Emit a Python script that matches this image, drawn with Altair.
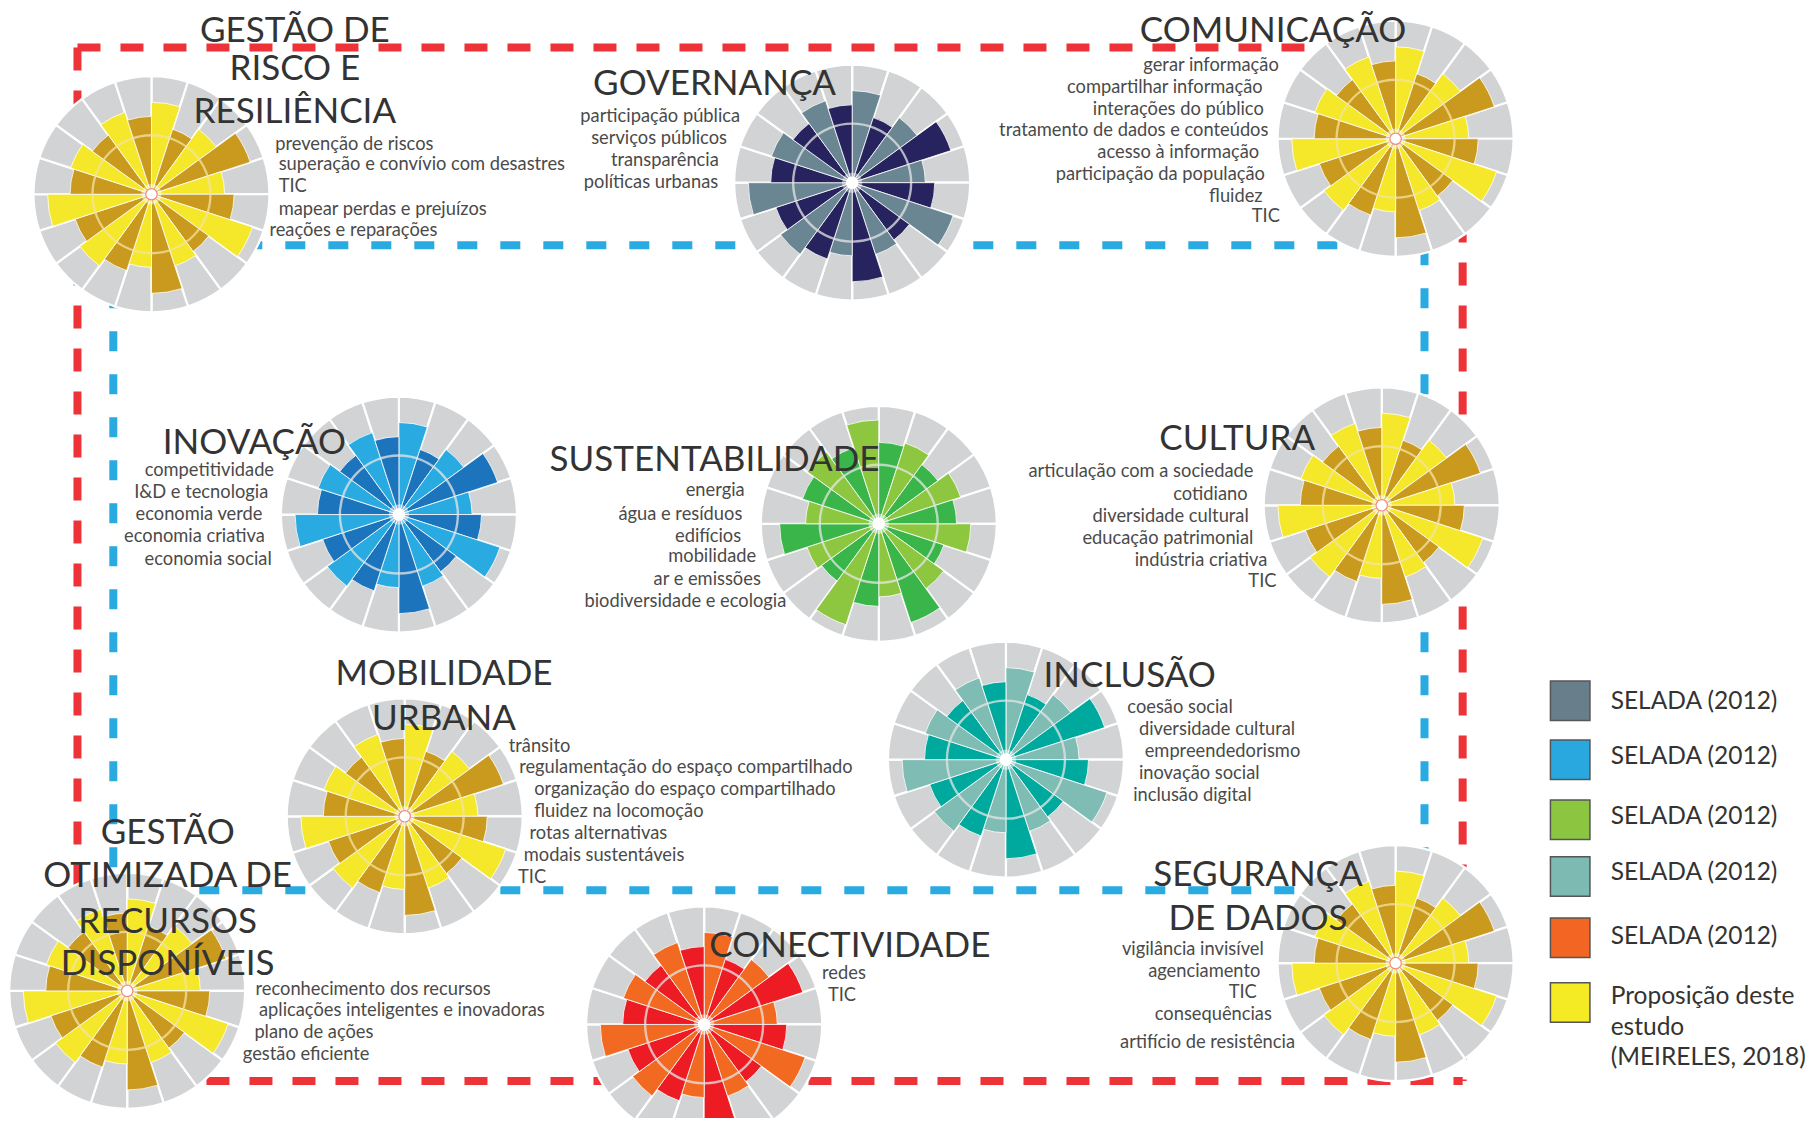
import altair as alt
import pandas as pd

# ---------------- data ----------------
# radial value of each of the 20 sectors (fraction of the wheel radius), clockwise from 12 o'clock
sector_values = [0.78, 0.58, 0.68, 0.88, 0.62, 0.70, 0.90, 0.60, 0.64, 0.84,
                 0.62, 0.68, 0.75, 0.68, 0.88, 0.69, 0.72, 0.62, 0.73, 0.66]

wheel_names = ["GESTÃO DE RISCO E RESILIÊNCIA", "GOVERNANÇA", "COMUNICAÇÃO", "INOVAÇÃO",
               "SUSTENTABILIDADE", "CULTURA", "MOBILIDADE URBANA", "INCLUSÃO",
               "GESTÃO OTIMIZADA DE RECURSOS DISPONÍVEIS", "CONECTIVIDADE", "SEGURANÇA DE DADOS"]
wheel_light = ["#F5E82A", "#6A8693", "#F5E82A", "#29ABE2", "#8DC63F", "#F5E82A",
               "#F5E82A", "#7FBCB3", "#F5E82A", "#F26A22", "#F5E82A"]
wheel_dark = ["#C99A1D", "#27235F", "#C99A1D", "#1C75BC", "#39B54A", "#C99A1D",
              "#C99A1D", "#00A99D", "#C99A1D", "#ED1C24", "#C99A1D"]
# number of sectors the pattern is turned clockwise
wheel_rotation = [0, 0, 0, 0, 5, 0, 0, 0, 0, 0, 0]
wheel_yellow = [True, False, True, False, False, True, True, False, True, False, True]

legend_labels = ["SELADA (2012)", "SELADA (2012)", "SELADA (2012)", "SELADA (2012)",
                 "SELADA (2012)", "Proposição deste"]
legend_colors = ["#687F8B", "#29A8E0", "#8CC540", "#7DBAB2", "#F26522", "#F4EB25"]
legend_extra = ["estudo", "(MEIRELES, 2018)"]

# ---------------- layout (read on the reduced 1568-wide picture) ----------------
S = 1813 / 1568
wheel_center = [(131, 168), (737, 158), (1207, 120), (345, 445), (760, 453), (1195, 437),
                (350, 706), (870, 657), (110, 857), (609, 886), (1207, 833)]

titles = [
    ("GESTÃO DE", 255, 26.5), ("RISCO E", 255, 60), ("RESILIÊNCIA", 255, 97),
    ("GOVERNANÇA", 618, 73), ("COMUNICAÇÃO", 1101, 26.5), ("INOVAÇÃO", 220, 383),
    ("SUSTENTABILIDADE", 618, 398), ("CULTURA", 1070, 380),
    ("MOBILIDADE", 384, 583), ("URBANA", 384, 622), ("INCLUSÃO", 977, 585),
    ("GESTÃO", 145, 720), ("OTIMIZADA DE", 145, 758), ("RECURSOS", 145, 797),
    ("DISPONÍVEIS", 145, 834), ("CONECTIVIDADE", 735, 818),
    ("SEGURANÇA", 1088, 757), ("DE DADOS", 1088, 795),
]

labels = [
    ("prevenção de riscos", 238, 125, "left"),
    ("superação e convívio com desastres", 241, 143, "left"),
    ("TIC", 241, 162, "left"),
    ("mapear perdas e prejuízos", 241, 182, "left"),
    ("reações e reparações", 233, 200, "left"),
    ("participação pública", 571, 101, "center"),
    ("serviços públicos", 570, 120, "center"),
    ("transparência", 575, 139, "center"),
    ("políticas urbanas", 563, 158, "center"),
    ("gerar informação", 1106, 57, "right"),
    ("compartilhar informação", 1092, 76, "right"),
    ("interações do público", 1093, 95, "right"),
    ("tratamento de dados e conteúdos", 1097, 113, "right"),
    ("acesso à informação", 1089, 132, "right"),
    ("participação da população", 1094, 151, "right"),
    ("fluidez", 1092, 170, "right"),
    ("TIC", 1107, 188, "right"),
    ("competitividade", 237, 407, "right"),
    ("I&D e tecnologia", 232, 426, "right"),
    ("economia verde", 227, 445, "right"),
    ("economia criativa", 229, 464, "right"),
    ("economia social", 235, 484, "right"),
    ("energia", 644, 425, "right"),
    ("água e resíduos", 642, 445, "right"),
    ("edifícios", 641, 464, "right"),
    ("mobilidade", 654, 482, "right"),
    ("ar e emissões", 658, 502, "right"),
    ("biodiversidade e ecologia", 680, 521, "right"),
    ("articulação com a sociedade", 1084, 408, "right"),
    ("cotidiano", 1079, 428, "right"),
    ("diversidade cultural", 1080, 447, "right"),
    ("educação patrimonial", 1084, 466, "right"),
    ("indústria criativa", 1096, 485, "right"),
    ("TIC", 1104, 503, "right"),
    ("trânsito", 440, 646, "left"),
    ("regulamentação do espaço compartilhado", 449, 664, "left"),
    ("organização do espaço compartilhado", 462, 683, "left"),
    ("fluidez na locomoção", 462, 702, "left"),
    ("rotas alternativas", 458, 721, "left"),
    ("modais sustentáveis", 453, 740, "left"),
    ("TIC", 448, 759, "left"),
    ("coesão social", 975, 612, "left"),
    ("diversidade cultural", 985, 631, "left"),
    ("empreendedorismo", 990, 650, "left"),
    ("inovação social", 985, 669, "left"),
    ("inclusão digital", 980, 688, "left"),
    ("reconhecimento dos recursos", 221, 856, "left"),
    ("aplicações inteligentes e inovadoras", 224, 874, "left"),
    ("plano de ações", 220, 893, "left"),
    ("gestão eficiente", 210, 912, "left"),
    ("redes", 711, 842, "left"),
    ("TIC", 716, 861, "left"),
    ("vigilância invisível", 1093, 822, "right"),
    ("agenciamento", 1090, 841, "right"),
    ("TIC", 1087, 859, "right"),
    ("consequências", 1100, 878, "right"),
    ("artifício de resistência", 1120, 902, "right"),
]

legend_box_x = 1358
legend_box_y = [606, 657, 709, 758, 811, 867]
legend_text_x = 1393
legend_text_y = [607, 655, 707, 755, 810, 862]
legend_extra_y = [889, 915]

red_box = (67, 41, 1265, 935)
blue_box = (98, 212, 1232, 770)

W, H = 1797, 1110
R = 118
xs = alt.Scale(domain=[8, 8 + W], range=[0, W])
ys = alt.Scale(domain=[8, 8 + H], range=[0, H])
ts = alt.Scale(type="linear", domain=[0, 20], range=[0, 6.283185307179586])
rs = alt.Scale(type="linear", domain=[0, 1], range=[0, R], zero=True)

# ---------------- tables ----------------
bg_rows, wedge_rows, ring_rows, center_rows = [], [], [], []
for w, name in enumerate(wheel_names):
    cx, cy = wheel_center[w][0] * S, wheel_center[w][1] * S
    for i, v in enumerate(sector_values):
        bg_rows.append(dict(wheel=name, cx=cx, cy=cy, t0=i, t1=i + 1, r=1.0))
        t0 = (i + wheel_rotation[w]) % 20
        wedge_rows.append(dict(wheel=name, cx=cx, cy=cy, t0=t0, t1=t0 + 1, r=v,
                               fill=wheel_light[w] if i % 2 == 0 else wheel_dark[w]))
    ring_rows.append(dict(wheel=name, cx=cx, cy=cy, t0=0, t1=20, r=0.51, r2=0.49,
                          ringc="#F3E3A0" if wheel_yellow[w] else "#E6E6E6"))
    center_rows.append(dict(wheel=name, cx=cx, cy=cy,
                            st="#F08A8A" if wheel_yellow[w] else "#FFFFFF"))

bg = pd.DataFrame(bg_rows)
wedges = pd.DataFrame(wedge_rows)
rings = pd.DataFrame(ring_rows)
centers = pd.DataFrame(center_rows)

title_df = pd.DataFrame([dict(text=t, x=x * S, y=y * S) for t, x, y in titles])
label_df = pd.DataFrame([dict(text=t, x=x * S, y=y * S, align=a) for t, x, y, a in labels])

seg = []
for name, box in [("red", red_box), ("blue", blue_box)]:
    x0, y0, x1, y1 = [v * S for v in box]
    seg += [dict(box=name, x=x0, y=y0, x2=x1, y2=y0),
            dict(box=name, x=x1, y=y0, x2=x1, y2=y1),
            dict(box=name, x=x0, y=y1, x2=x1, y2=y1),
            dict(box=name, x=x0, y=y0, x2=x0, y2=y1)]
seg_df = pd.DataFrame(seg)

leg_df = pd.DataFrame(dict(label=legend_labels, fill=legend_colors,
                           bx=[legend_box_x * S] * 6, by=[v * S for v in legend_box_y],
                           tx=[legend_text_x * S] * 6, ty=[v * S for v in legend_text_y]))
leg_extra_df = pd.DataFrame(dict(label=legend_extra, tx=[legend_text_x * S] * 2,
                                 ty=[v * S for v in legend_extra_y]))

X = lambda f: alt.X(f, type="quantitative", scale=xs, axis=None)
Y = lambda f: alt.Y(f, type="quantitative", scale=ys, axis=None)

# ---------------- layers ----------------
red_lines = alt.Chart(seg_df).transform_filter("datum.box == 'red'").mark_rule(
    strokeWidth=8, strokeDash=[23, 20], color="#EE3338").encode(
    x=X("x"), y=Y("y"), x2="x2", y2="y2")
blue_lines = alt.Chart(seg_df).transform_filter("datum.box == 'blue'").mark_rule(
    strokeWidth=8, strokeDash=[20, 23], color="#29ABE2").encode(
    x=X("x"), y=Y("y"), x2="x2", y2="y2")

bg_layer = alt.Chart(bg).mark_arc(color="#D1D3D4", stroke="white", strokeWidth=2.2).encode(
    x=X("cx"), y=Y("cy"),
    theta=alt.Theta("t0:Q", scale=ts, stack=None), theta2="t1:Q",
    radius=alt.Radius("r:Q", scale=rs))

wedge_layer = alt.Chart(wedges).mark_arc(stroke="white", strokeWidth=0.8).encode(
    x=X("cx"), y=Y("cy"),
    theta=alt.Theta("t0:Q", scale=ts, stack=None), theta2="t1:Q",
    radius=alt.Radius("r:Q", scale=rs),
    color=alt.Color("fill:N", scale=None))

ring_layer = alt.Chart(rings).mark_arc(opacity=0.75).encode(
    x=X("cx"), y=Y("cy"),
    theta=alt.Theta("t0:Q", scale=ts, stack=None), theta2="t1:Q",
    radius=alt.Radius("r:Q", scale=rs), radius2="r2:Q",
    color=alt.Color("ringc:N", scale=None))

halo_layer = alt.Chart(centers).mark_point(shape="circle", filled=True, size=420,
                                           opacity=0.45, color="white").encode(
    x=X("cx"), y=Y("cy"))
center_layer = alt.Chart(centers).mark_point(shape="circle", filled=True, size=130,
                                             fill="white", strokeWidth=1.2, opacity=1).encode(
    x=X("cx"), y=Y("cy"), stroke=alt.Stroke("st:N", scale=None))

title_layer = alt.Chart(title_df).mark_text(
    font="Lato", fontSize=35, color="#333333", align="center", baseline="middle").encode(
    x=X("x"), y=Y("y"), text="text:N")

def label_layer(a):
    return alt.Chart(label_df).transform_filter(f"datum.align == '{a}'").mark_text(
        font="Lato", fontSize=18.3, color="#4A4A4A", align=a, baseline="middle").encode(
        x=X("x"), y=Y("y"), text="text:N")

leg_boxes = alt.Chart(leg_df).mark_square(size=1560, opacity=1, stroke="#555555",
                                          strokeWidth=1.5).encode(
    x=X("bx"), y=Y("by"), color=alt.Color("fill:N", scale=None))
leg_text = alt.Chart(leg_df).mark_text(font="Lato", fontSize=24.5, color="#333333",
                                       align="left", baseline="middle").encode(
    x=X("tx"), y=Y("ty"), text="label:N")
leg_text2 = alt.Chart(leg_extra_df).mark_text(font="Lato", fontSize=24.5, color="#333333",
                                              align="left", baseline="middle").encode(
    x=X("tx"), y=Y("ty"), text="label:N")

chart = alt.layer(
    red_lines, blue_lines, bg_layer, wedge_layer, ring_layer, halo_layer, center_layer,
    title_layer, label_layer("left"), label_layer("right"), label_layer("center"),
    leg_boxes, leg_text, leg_text2,
).properties(width=W, height=H, padding=0, background="#FFFFFF",
             autosize=alt.AutoSizeParams(type="none")
).configure_view(strokeWidth=0, stroke="#FFFFFF", fill="#FFFFFF")

chart.save("out.html", embed_options={"renderer": "svg", "actions": False})
